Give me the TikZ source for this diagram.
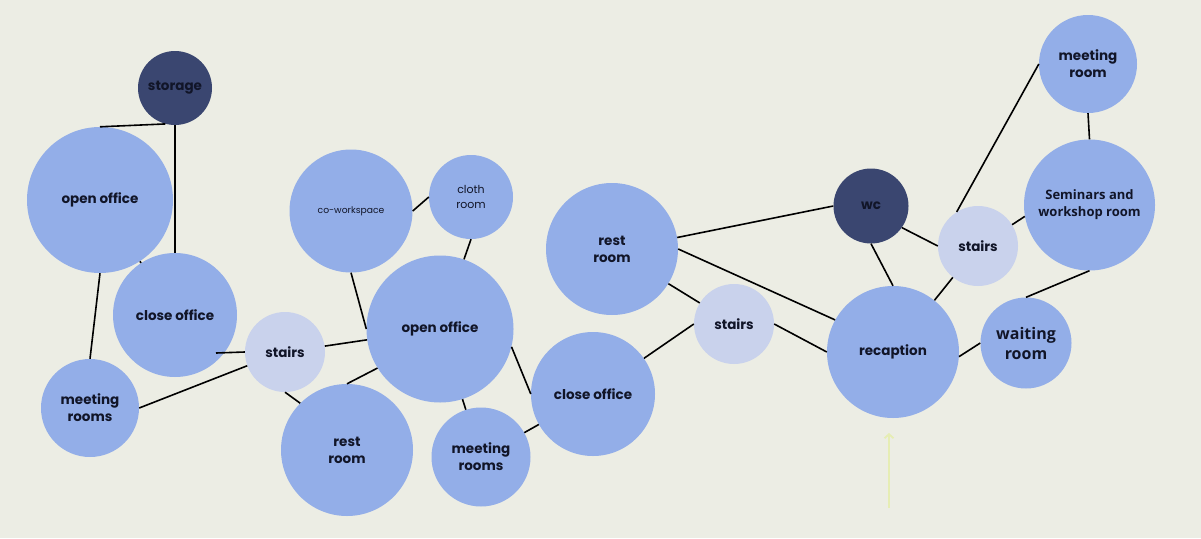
\documentclass[tikz,border=0pt]{standalone}
\usepackage{fontspec}
\setmainfont{Poppins}
\newfontfamily\hum{Open Sans}
\usetikzlibrary{arrows.meta}
\definecolor{bgc}{HTML}{ECEDE4}
\definecolor{roomc}{HTML}{93AEE8}
\definecolor{stairc}{HTML}{C9D2EC}
\definecolor{darkc}{HTML}{3A4670}
\definecolor{txtc}{HTML}{111528}
\definecolor{arrc}{HTML}{E6EDB4}
\tikzset{
  room/.style={circle, fill=roomc, minimum size=#1, inner sep=0pt, align=center, text=txtc,
    font=\fontsize{13.5}{17}\selectfont\bfseries},
  stairbox/.style={room=#1, fill=stairc},
  darkbox/.style={room=#1, fill=darkc},
  light/.style={font=\fontsize{11}{15}\selectfont},
  link/.style={line width=1.6pt, black},
}
\begin{document}
\begin{tikzpicture}[x=1pt,y=-1pt]
\fill[bgc] (0,0) rectangle (1201,538);
\useasboundingbox (0,0) rectangle (1201,538);
% nodes
\node[darkbox=74pt] (storage) at (175,88) {storage};
\node[room=146pt] (oo1) at (100,200) {open office};
\node[room=124pt] (co1) at (175,315) {close office};
\node[stairbox=80pt] (st1) at (285,352) {stairs};
\node[room=98pt] (mr1) at (90,408) {meeting\\rooms};
\node[room=123pt, font=\fontsize{9.2}{12}\selectfont] (cw) at (351,211) {\raisebox{-3pt}{co-workspace}};
\node[room=84pt, light] (cr) at (471,197) {cloth\\room};
\node[room=147pt] (oo2) at (440,329) {open office};
\node[room=132pt] (rr1) at (347,450) {rest\\room};
\node[room=99pt] (mr2) at (481,457) {meeting\\rooms};
\node[room=132pt] (rr2) at (612,249) {rest\\room};
\node[room=124pt] (co2) at (593,394) {close office};
\node[stairbox=80pt] (st2) at (734,324) {stairs};
\node[darkbox=75pt] (wc) at (871,206) {wc};
\node[stairbox=80pt] (st3) at (978,246) {stairs};
\node[room=132pt] (rc) at (893,352) {recaption};
\node[room=91pt, font=\hum\fontsize{16}{20}\selectfont\bfseries] (wr) at (1026,343) {waiting\\room};
\node[room=131pt, font=\hum\fontsize{13}{17}\selectfont\bfseries] (sem) at (1089.5,205) {Seminars and\\workshop room};
\node[room=98pt] (mr3) at (1088,64) {meeting\\room};
\coordinate (c1) at (216,353);
\coordinate (ar0) at (889,508);
\coordinate (ar1) at (889,433);
% links
\draw[link] (oo1.north) -- (storage.-105);
\draw[link] (storage.south) -- (co1.north);
\draw[link] (oo1.south) -- (mr1.north);
\draw[link] (oo1) -- (co1);
\draw[link] (c1) -- (st1.west);
\draw[link] (mr1.east) -- (st1.200);
\draw[link] (st1) -- (oo2);
\draw[link] (st1.south) -- (rr1.135);
\draw[link] (cw.south) -- (oo2.west);
\draw[link] (cw.east) -- (cr.west);
\draw[link] (cr.south) -- (oo2.71);
\draw[link] (rr1.north) -- (oo2.212);
\draw[link] (oo2) -- (mr2);
\draw[link] (oo2.-14) -- (co2.west);
\draw[link] (mr2) -- (co2);
\draw[link] (co2.35) -- (st2.west);
\draw[link] (rr2) -- (st2);
\draw[link] (rr2.10) -- (wc.west);
\draw[link] (rr2.east) -- (rc.151);
\draw[link] (st2.east) -- (rc.west);
\draw[link] (wc.south) -- (rc.north);
\draw[link] (wc.-35) -- (st3.west);
\draw[link] (st3) -- (rc);
\draw[link] (st3.122) -- (mr3.west);
\draw[link] (st3.32) -- (sem.190);
\draw[link] (mr3.south) -- (sem.north);
\draw[link] (sem.south) -- (wr.north);
\draw[link] (rc.-4) -- (wr.west);
\draw[arrc, line width=1.8pt, -{Straight Barb[length=4pt,width=9pt]}] (ar0) -- (ar1);
\end{tikzpicture}
\end{document}
